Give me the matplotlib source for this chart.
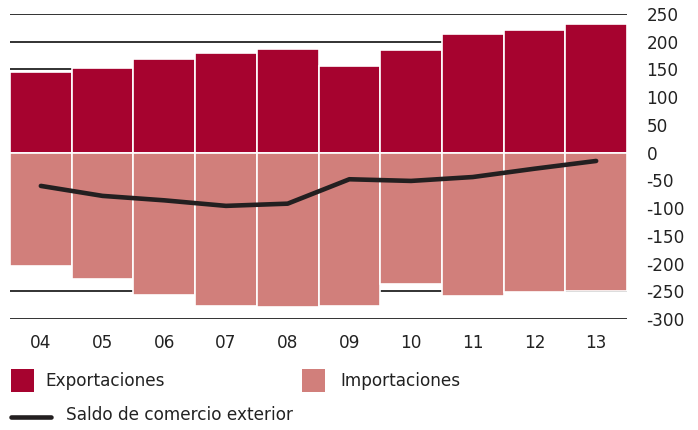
import numpy as np
import matplotlib
matplotlib.use("Agg")
import matplotlib.pyplot as plt
from matplotlib.patches import Rectangle
from matplotlib.lines import Line2D

years = ["04", "05", "06", "07", "08", "09", "10", "11", "12", "13"]
exportaciones = [146, 153, 168, 180, 187, 157, 185, 214, 221, 232]
importaciones = [-205, -228, -257, -277, -279, -277, -236, -258, -251, -249]
saldo = [-60, -78, -86, -96, -92, -48, -51, -44, -29, -15]
yticks = [250, 200, 150, 100, 50, 0, -50, -100, -150, -200, -250, -300]

EXP_COLOR = "#a6032f"
IMP_COLOR = "#d17f7b"
LINE_COLOR = "#231f20"
TEXT_COLOR = "#222222"
FS = 12.2

plt.rcParams["font.family"] = ["DejaVu Sans"]

fig = plt.figure(figsize=(6.98, 4.30), dpi=100)
ax = fig.add_axes([10 / 698, 1 - 319 / 430, 617 / 698, 305 / 430])

x = np.arange(len(years))

for t in yticks:
    ax.axhline(t, color="#222222", lw=1.3, zorder=0)

ax.bar(x, exportaciones, width=1.0, color=EXP_COLOR, edgecolor="white", linewidth=1.2, zorder=2)
ax.bar(x, importaciones, width=1.0, color=IMP_COLOR, edgecolor="white", linewidth=1.2, zorder=2)
ax.plot(x, saldo, color=LINE_COLOR, lw=3.3, solid_capstyle="round", solid_joinstyle="round", zorder=3)

ax.set_xlim(-0.5, len(years) - 0.5)
ax.set_ylim(-300, 250)
ax.set_yticks(yticks)
ax.yaxis.tick_right()
ax.set_yticklabels([str(t) for t in yticks], fontsize=FS, color=TEXT_COLOR)
ax.tick_params(axis="y", length=0, pad=14)
for lbl in ax.get_yticklabels():
    lbl.set_horizontalalignment("left")
ax.set_xticks(x)
ax.set_xticklabels(years, fontsize=FS, color=TEXT_COLOR)
ax.tick_params(axis="x", length=0, pad=11)
for s in ax.spines.values():
    s.set_visible(False)

# legend
W, H = 698, 430
def px(xp, yp):
    return xp / W, 1 - yp / H

for (x0, col, label, tx) in [(11, EXP_COLOR, "Exportaciones", 45),
                             (302, IMP_COLOR, "Importaciones", 340)]:
    fx, fy = px(x0, 392)
    fig.add_artist(Rectangle((fx, fy), 23 / W, 23 / H, transform=fig.transFigure,
                             facecolor=col, edgecolor="none"))
    fig.text(*px(tx, 381), label, fontsize=FS, color=TEXT_COLOR, va="center", ha="left")

fig.add_artist(Line2D([11 / W, 51 / W], [1 - 417 / H] * 2, transform=fig.transFigure,
                      color=LINE_COLOR, lw=3.3, solid_capstyle="round"))
fig.text(*px(66, 415), "Saldo de comercio exterior", fontsize=FS, color=TEXT_COLOR,
         va="center", ha="left")

fig.savefig("out.png", dpi=100)
